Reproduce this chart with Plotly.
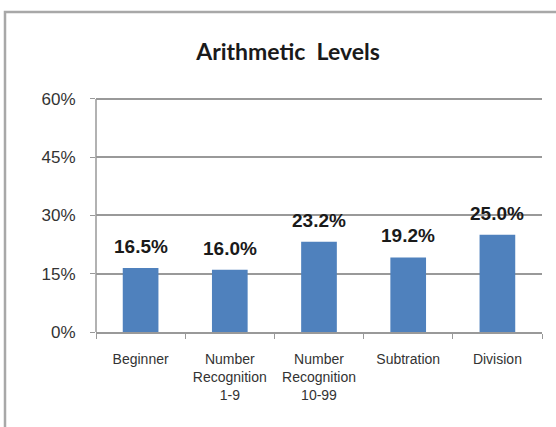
import plotly.graph_objects as go

categories = ["Beginner", "Number<br>Recognition<br>1-9", "Number<br>Recognition<br>10-99", "Subtration", "Division"]
values = [16.5, 16.0, 23.2, 19.2, 25.0]
tick_vals = [0, 15, 30, 45, 60]
tick_text = ["0%", "15%", "30%", "45%", "60%"]

W, H = 556, 427
ML, MR, MT, MB = 96, 14, 95, 95
pw = W - ML - MR
ph = H - MT - MB

fig = go.Figure()
fig.add_trace(go.Bar(x=categories, y=values, marker=dict(color="#4F81BD", line=dict(width=0)),
                     hoverinfo="skip"))

for c, v in zip(categories, values):
    fig.add_annotation(x=c, y=v, text=f"<b>{v:.1f}%</b>", showarrow=False,
                       yanchor="bottom", yshift=9,
                       font=dict(family="Liberation Sans, Arial", size=19, color="#1a1a1a"))

def px2paper_x(px):
    return (px - ML) / pw

def px2paper_y(py):
    return (H - MB - py) / ph

fig.add_shape(type="rect", xref="paper", yref="paper",
              x0=px2paper_x(5), x1=px2paper_x(565), y0=px2paper_y(440), y1=px2paper_y(12),
              line=dict(color="#a8a8a8", width=2.5), fillcolor="rgba(0,0,0,0)", layer="below")

fig.update_layout(
    width=W, height=H,
    margin=dict(l=ML, r=MR, t=MT, b=MB),
    paper_bgcolor="white", plot_bgcolor="white",
    showlegend=False,
    bargap=0.6,
    title=dict(text="<b>Arithmetic  Levels</b>", x=(288) / W, xanchor="center",
               y=1 - 52 / H, yanchor="middle",
               font=dict(family="Lato", size=23, color="#1a1a1a")),
    xaxis=dict(type="category", showline=True, linecolor="#999999", linewidth=1.5,
               ticks="outside", tickson="boundaries", ticklen=5, tickcolor="#999999",
               tickfont=dict(family="Liberation Sans, Arial", size=14, color="#333333"),
               ticklabelstandoff=13, showgrid=False),
    yaxis=dict(range=[0, 61], tickvals=tick_vals, ticktext=tick_text,
               showline=False,
               ticks="outside", ticklen=5, tickcolor="#999999",
               showgrid=True, gridcolor="#999999", gridwidth=1.5,
               zeroline=False,
               tickfont=dict(family="Liberation Sans, Arial", size=17, color="#333333"),
               ticklabelstandoff=11),
)
# vertical axis line spanning 0..60 only, like the reference
fig.add_shape(type="line", xref="paper", yref="y", x0=0, x1=0, y0=tick_vals[0], y1=tick_vals[-1],
              line=dict(color="#999999", width=1.5))

fig.write_html("out.html")
